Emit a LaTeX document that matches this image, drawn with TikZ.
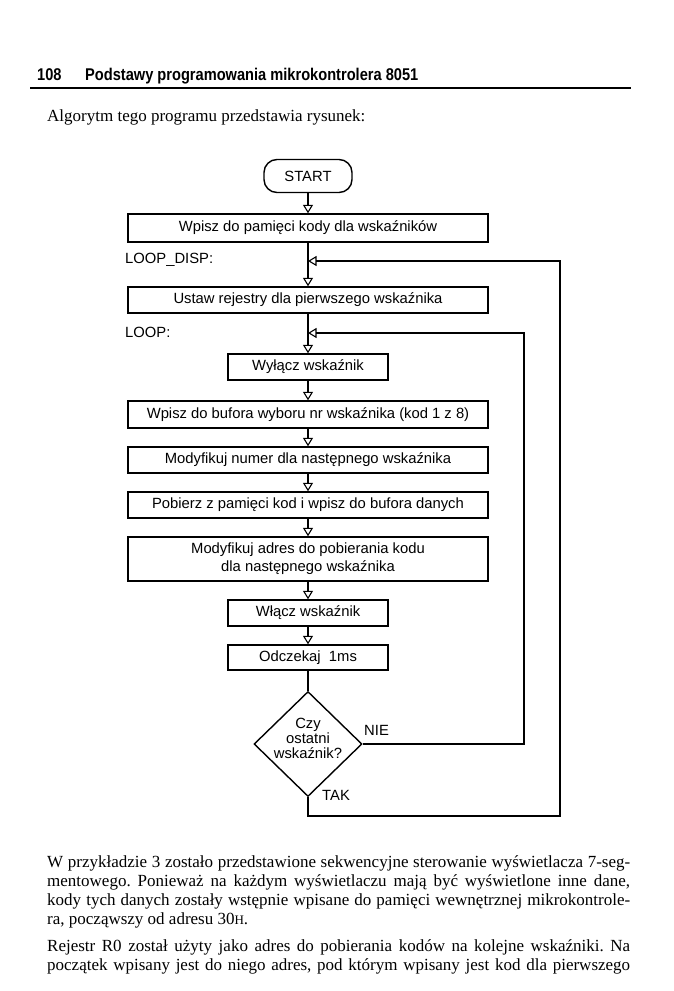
\documentclass[tikz,border=0pt]{standalone}
\usepackage{fontspec}
\setmainfont{Liberation Serif}
\newfontfamily\flowfont{Liberation Sans}
\newfontfamily\hdrfont{Liberation Sans}[FakeStretch=0.86]
\usetikzlibrary{arrows.meta,shapes.geometric}
\frenchspacing
\begin{document}
\begin{tikzpicture}[x=1pt,y=-1pt,
  ff/.style={font=\flowfont\fontsize{14.8}{15}\selectfont},
  box/.style={draw, line width=1.4pt, minimum width=360pt, minimum height=26pt, inner sep=0pt, align=center, ff},
  sbox/.style={box, minimum width=160pt},
  startbox/.style={draw, line width=1.4pt, rounded corners=13pt, minimum width=88pt, minimum height=33pt, inner sep=0pt, ff},
  arr/.style={-{Triangle[open,width=10pt,length=8.5pt,line width=1.1pt]}, line width=1.3pt},
  ln/.style={line width=1.3pt},
  lbl/.style={inner sep=0pt, ff},
  body/.style={anchor=base west, inner sep=0pt, font=\fontsize{17}{19}\selectfont},
  hdr/.style={anchor=base west, inner sep=0pt, font=\hdrfont\bfseries\fontsize{17}{17}\selectfont}]
\useasboundingbox (0,0) rectangle (674,991);
\fill[white] (0,0) rectangle (674,991);

% header
\node[hdr] (pnum) at (37,80) {108};
\node[hdr] (title) at (85,80) {Podstawy programowania mikrokontrolera 8051};
\draw[line width=2pt] (30,88) -- (631,88);

\node[body] (intro) at (47,121) {Algorytm tego programu przedstawia rysunek:};

% flowchart
\node[startbox] (start) at (308,176) {START};
\node[box, minimum height=28pt] (b1) at (308,228) {Wpisz do pamięci kody dla wskaźników};
\node[box] (b2) at (308,300) {Ustaw rejestry dla pierwszego wskaźnika};
\node[sbox] (b3) at (308,367) {Wyłącz wskaźnik};
\node[box, minimum height=27pt] (b4) at (308,414.5) {Wpisz do bufora wyboru nr wskaźnika (kod 1 z 8)};
\node[box] (b5) at (308,460) {Modyfikuj numer dla następnego wskaźnika};
\node[box] (b6) at (308,505) {Pobierz z pamięci kod i wpisz do bufora danych};
\node[box, minimum height=44pt, font=\flowfont\fontsize{14.8}{18}\selectfont] (b7) at (308,559) {Modyfikuj adres do pobierania kodu\\dla następnego wskaźnika};
\node[sbox] (b8) at (308,613) {Włącz wskaźnik};
\node[sbox, minimum height=25pt] (b9) at (308,657.5) {Odczekaj\ \ 1ms};
\node[diamond, draw, line width=1.4pt, minimum width=108pt, minimum height=105pt, inner sep=0pt] (d) at (308,744) {};
\node[lbl, align=center, font=\flowfont\fontsize{14.8}{15}\selectfont] (dtxt) at (308,738) {Czy\\ostatni\\wskaźnik?};

\node[lbl, anchor=west] (lloopdisp) at (125,260) {LOOP\_DISP:};
\node[lbl, anchor=west] (lloop) at (125,332) {LOOP:};
\node[lbl, anchor=west] (nie) at (364,730) {NIE};
\node[lbl, anchor=west] (tak) at (322,795) {TAK};

\coordinate (j1) at (308,261);
\coordinate (j2) at (308,333);
\coordinate (r1) at (560,816);
\coordinate (r2) at (524,744);

\draw[arr] (start.south) -- (b1.north);
\draw[arr] (b1.south) -- (b2.north);
\draw[arr] (b2.south) -- (b3.north);
\draw[arr] (b3.south) -- (b4.north);
\draw[arr] (b4.south) -- (b5.north);
\draw[arr] (b5.south) -- (b6.north);
\draw[arr] (b6.south) -- (b7.north);
\draw[arr] (b7.south) -- (b8.north);
\draw[arr] (b8.south) -- (b9.north);
\draw[ln] (b9.south) -- (d.north);
\draw[arr] (d.east) -- (r2) |- (j2);
\draw[arr] (d.south) |- (r1) |- (j1);

% body text
\node[body] (p1) at (47,867) {\makebox[583pt][s]{W przykładzie 3 zostało przedstawione sekwencyjne sterowanie wyświetlacza 7-seg-}};
\node[body] (p2) at (47,886) {\makebox[583pt][s]{mentowego. Ponieważ na każdym wyświetlaczu mają być wyświetlone inne dane,}};
\node[body] (p3) at (47,905) {\makebox[583pt][s]{kody tych danych zostały wstępnie wpisane do pamięci wewnętrznej mikrokontrole-}};
\node[body] (p4) at (47,924) {ra, począwszy od adresu 30{\fontsize{13}{13}\selectfont H}.};
\node[body] (p5) at (47,951) {\makebox[583pt][s]{Rejestr R0 został użyty jako adres do pobierania kodów na kolejne wskaźniki. Na}};
\node[body] (p6) at (47,970) {\makebox[583pt][s]{początek wpisany jest do niego adres, pod którym wpisany jest kod dla pierwszego}};
\end{tikzpicture}
\end{document}
